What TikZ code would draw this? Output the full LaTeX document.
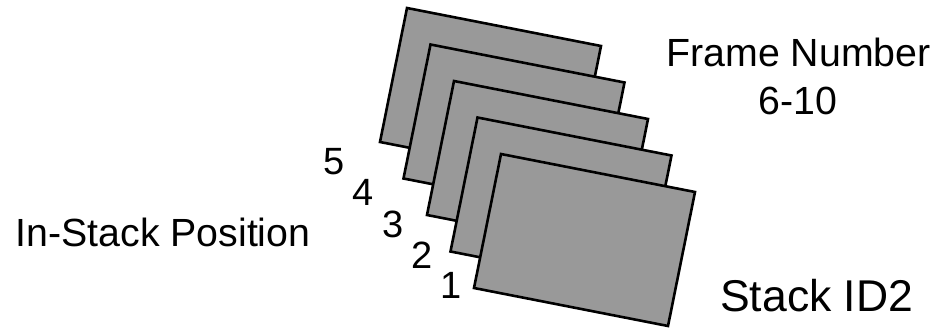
\documentclass[tikz,border=0pt]{standalone}
\usepackage{fontspec}
\setmainfont{Liberation Sans}
\definecolor{framegray}{RGB}{153,153,153}
\tikzset{
  framesheet/.style={draw=black, fill=framegray, line width=2.6pt, line join=miter},
  biglabel/.style={font=\fontsize{39.3}{45}\selectfont, inner sep=0pt, anchor=base},
  idlabel/.style={font=\fontsize{44.5}{50}\selectfont, inner sep=0pt, anchor=base},
  poslabel/.style={font=\fontsize{38}{44}\selectfont, inner sep=0pt, anchor=base}
}
\begin{document}
\begin{tikzpicture}[x=1pt,y=-1pt]
  \useasboundingbox (0,0) rectangle (939,328);
  % frames from back (5) to front (1)
  \foreach \i/\k in {0/5,1/4,2/3,3/2,4/1}{
    \coordinate (f\k) at ({407+23.5*\i},{8+36.5*\i});
    \draw[framesheet] (f\k) -- ++(194,38) -- ++(-27,134) -- ++(-194,-38) -- cycle;
  }
  % in-stack position numbers
  \node[poslabel] (n5) at (333.7,175) {5};
  \node[poslabel] (n4) at (363,205.7) {4};
  \node[poslabel] (n3) at (393,237.3) {3};
  \node[poslabel] (n2) at (421.7,268.3) {2};
  \node[poslabel] (n1) at (451.4,298.3) {1};
  % labels
  \node[biglabel] (fn1) at (798.5,66.7) {Frame Number};
  \node[biglabel] (fn2) at (798,115) {6-10};
  \node[biglabel] (isp) at (163,246.7) {In-Stack Position};
  \node[idlabel] (sid) at (816.7,311.7) {Stack ID2};
\end{tikzpicture}
\end{document}
